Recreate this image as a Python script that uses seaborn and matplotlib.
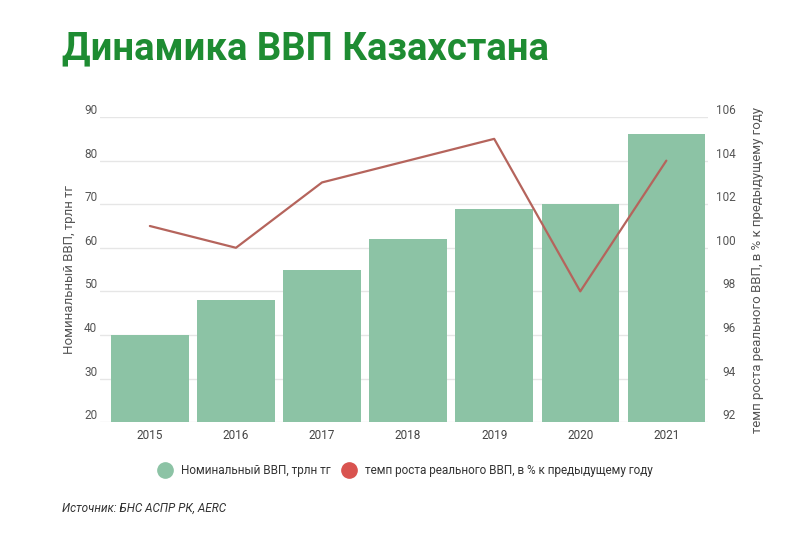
import numpy as np
import pandas as pd
import seaborn as sns
import matplotlib.pyplot as plt
from matplotlib.lines import Line2D

# data
years = ['2015', '2016', '2017', '2018', '2019', '2020', '2021']
nominal_gdp = [40, 48, 55, 62, 69, 70, 86]          # трлн тг
real_growth = [101, 100, 103, 104, 105, 98, 104]    # % к предыдущему году

left_ticks = [20, 30, 40, 50, 60, 70, 80, 90]
right_ticks = [92, 94, 96, 98, 100, 102, 104, 106]

BAR_COLOR = '#8cc3a5'
LINE_COLOR = '#b5645c'
LEGEND_RED = '#d9534f'
TEXT_COLOR = '#555555'
GRID_COLOR = '#e6e6e6'

sns.set_theme(style='white')
plt.rcParams['font.family'] = ['Roboto', 'DejaVu Sans']

df = pd.DataFrame({'year': years, 'gdp': nominal_gdp, 'growth': real_growth})

fig = plt.figure(figsize=(8.06, 5.37), dpi=100)
ax = fig.add_axes([0.124, 0.214, 0.754, 0.568])

sns.barplot(data=df, x='year', y='gdp', color=BAR_COLOR, saturation=1,
            width=0.9, linewidth=0, ax=ax, zorder=2)
ax.set_ylim(20, 90)
ax.set_yticks(left_ticks)
ax.set_xlim(-0.58, 6.48)
ax.grid(axis='y', color=GRID_COLOR, linewidth=1, zorder=0)
ax.set_axisbelow(True)
ax.set_xlabel('')
ax.set_ylabel('Номинальный ВВП, трлн тг', fontsize=9.5, color=TEXT_COLOR, labelpad=6)
ax.tick_params(axis='y', length=0, pad=2, labelsize=8.5, labelcolor=TEXT_COLOR)
ax.tick_params(axis='x', length=0, pad=5, labelsize=8.5, labelcolor='#444444')
for lbl in ax.get_yticklabels():
    lbl.set_va('bottom')

ax2 = ax.twinx()
sns.lineplot(x=np.arange(len(years)), y=df['growth'], color=LINE_COLOR,
             linewidth=1.6, ax=ax2, zorder=3)
ax2.set_ylim(92, 106)
ax2.set_yticks(right_ticks)
ax2.set_ylabel('темп роста реального ВВП, в % к предыдущему году',
               fontsize=9.5, color=TEXT_COLOR, labelpad=11)
ax2.tick_params(axis='y', length=0, pad=20, labelsize=8.5, labelcolor=TEXT_COLOR)
for lbl in ax2.get_yticklabels():
    lbl.set_va('bottom')
    lbl.set_ha('right')

for a in (ax, ax2):
    for s in a.spines.values():
        s.set_visible(False)

fig.text(0.077, 0.908, 'Динамика ВВП Казахстана', fontsize=27.5, fontweight='bold',
         color='#1e8c32', va='center', ha='left')

handles = [
    Line2D([], [], marker='o', linestyle='', markersize=11, color=BAR_COLOR),
    Line2D([], [], marker='o', linestyle='', markersize=11, color=LEGEND_RED),
]
fig.legend(handles, ['Номинальный ВВП, трлн тг',
                     'темп роста реального ВВП, в % к предыдущему году'],
           loc='center', bbox_to_anchor=(0.5, 0.123), ncol=2, frameon=False,
           fontsize=8.5, handletextpad=0.3, columnspacing=0.6, labelcolor='#333333')

fig.text(0.077, 0.054, 'Источник: БНС АСПР РК, AERC', fontsize=8.5, style='italic',
         color='#333333', va='center', ha='left')

fig.savefig('out.png', dpi=100, facecolor='white')
